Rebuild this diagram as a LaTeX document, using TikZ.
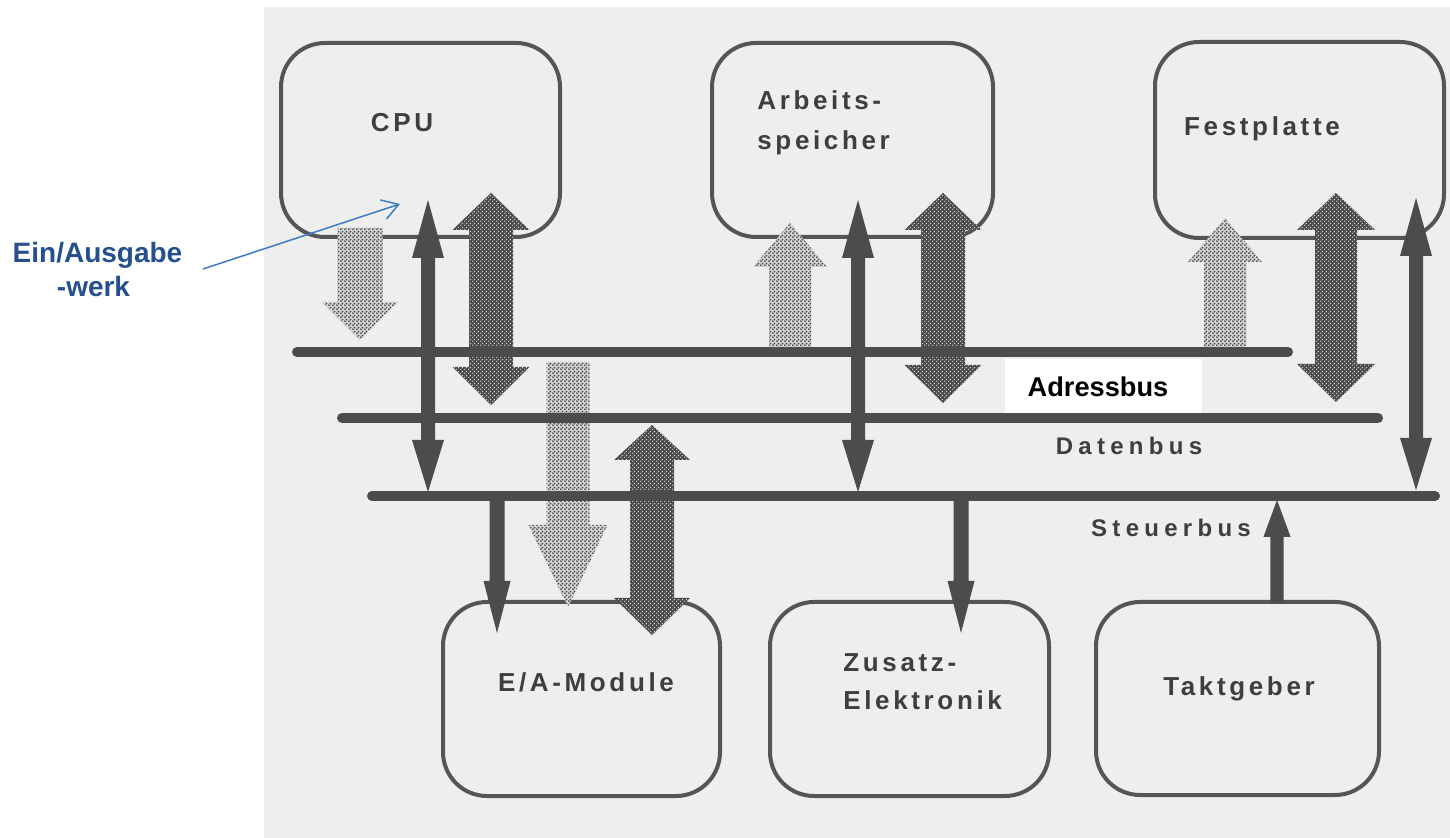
\documentclass[tikz,border=0pt]{standalone}
\usepackage{fontspec}
\setmainfont{Liberation Sans}
\newfontfamily\lblfont[LetterSpace=14]{Liberation Sans Bold}
\newfontfamily\busfont[LetterSpace=22]{Liberation Sans Bold}
\usetikzlibrary{arrows.meta,patterns.meta,calc}

\definecolor{scanbg}{HTML}{EEEEEE}
\definecolor{ink}{HTML}{4C4C4C}
\definecolor{boxc}{HTML}{555555}
\definecolor{txt}{HTML}{3E3E3E}
\definecolor{darkbase}{HTML}{4A4A4A}
\definecolor{darkdot}{HTML}{DADADA}
\definecolor{lightbase}{HTML}{D6D6D6}
\definecolor{lightdot}{HTML}{4E4E4E}
\definecolor{navy}{HTML}{25508D}
\definecolor{bluel}{HTML}{3F7BC4}

\tikzdeclarepattern{
  name=dotsS,
  type=uncolored,
  bounding box={(0pt,0pt) and (2pt,2pt)},
  tile size={(2pt,2pt)},
  code={
    \pgfpathcircle{\pgfpoint{0.5pt}{0.5pt}}{0.42pt}
    \pgfpathcircle{\pgfpoint{1.5pt}{1.5pt}}{0.42pt}
    \pgfusepath{fill}
  }
}
\tikzdeclarepattern{
  name=dotsL,
  type=uncolored,
  bounding box={(0pt,0pt) and (2pt,2pt)},
  tile size={(2pt,2pt)},
  code={
    \pgfpathcircle{\pgfpoint{0.5pt}{0.5pt}}{0.62pt}
    \pgfpathcircle{\pgfpoint{1.5pt}{1.5pt}}{0.62pt}
    \pgfusepath{fill}
  }
}

% #1 style, #2 top tip, #3 bottom tip, #4 shaft half, #5 head half, #6 top head length, #7 bottom head length
\newcommand\DblArrow[7]{%
  \path[#1] let \p1=(#2), \p2=(#3) in
    (\x1,\y1) -- (\x1+#5,\y1-#6) -- (\x1+#4,\y1-#6) -- (\x1+#4,\y2+#7) -- (\x1+#5,\y2+#7)
    -- (\x1,\y2) -- (\x1-#5,\y2+#7) -- (\x1-#4,\y2+#7) -- (\x1-#4,\y1-#6) -- (\x1-#5,\y1-#6) -- cycle;}
% #1 style, #2 tip (top), #3 base (bottom), #4 shaft half, #5 head half, #6 head length
\newcommand\UpArrow[6]{%
  \path[#1] let \p1=(#2), \p2=(#3) in
    (\x1,\y1) -- (\x1+#5,\y1-#6) -- (\x1+#4,\y1-#6) -- (\x1+#4,\y2) -- (\x1-#4,\y2)
    -- (\x1-#4,\y1-#6) -- (\x1-#5,\y1-#6) -- cycle;}
% #1 style, #2 base (top), #3 tip (bottom), #4 shaft half, #5 head half, #6 head length
\newcommand\DownArrow[6]{%
  \path[#1] let \p1=(#2), \p2=(#3) in
    (\x1-#4,\y1) -- (\x1+#4,\y1) -- (\x1+#4,\y2+#6) -- (\x1+#5,\y2+#6) -- (\x1,\y2)
    -- (\x1-#5,\y2+#6) -- (\x1-#4,\y2+#6) -- cycle;}

\begin{document}
\begin{tikzpicture}[x=0.5pt,y=-0.5pt,
  box/.style={draw=boxc, line width=2pt, rounded corners=22pt, inner sep=0pt},
  lbl/.style={font=\lblfont\fontsize{13}{16}\selectfont, text=txt, inner sep=0pt},
  buslbl/.style={font=\busfont\fontsize{12}{15}\selectfont, text=txt, inner sep=0pt},
  bus/.style={draw=ink, line width=5pt, line cap=round},
  solidar/.style={fill=ink},
  darkar/.style={fill=darkbase, postaction={pattern=dotsS, pattern color=darkdot}},
  lightar/.style={fill=lightbase, postaction={pattern=dotsL, pattern color=lightdot}},
  bluetxt/.style={font=\bfseries\fontsize{14}{17}\selectfont, text=navy, inner sep=0pt}
]
\useasboundingbox (0,0) rectangle (1450,838);
\fill[white] (0,0) rectangle (1450,838);
\fill[scanbg] (264,7) rectangle (1450,838);

% boxes
\node[box, minimum width=139.5pt, minimum height=97pt] (cpu) at (420.5,140) {};
\node[box, minimum width=140.5pt, minimum height=97pt] (ram) at (852.5,140) {};
\node[box, minimum width=144.5pt, minimum height=98pt] (hdd) at (1299.5,140) {};
\node[box, minimum width=138.5pt, minimum height=97pt] (ea) at (581.5,699) {};
\node[box, minimum width=139.5pt, minimum height=97pt] (zus) at (909.5,699) {};
\node[box, minimum width=141.5pt, minimum height=96.5pt] (takt) at (1237.5,698.5) {};

% bus end points
\coordinate (ab-w) at (297,352); \coordinate (ab-e) at (1288,352);
\coordinate (db-w) at (342,418); \coordinate (db-e) at (1378,418);
\coordinate (sb-w) at (372,496); \coordinate (sb-e) at (1435,496);

% connector end points
\coordinate (cpu-s) at (428,200); \coordinate (sb-1) at (428,492);
\coordinate (cpu-d) at (491,193); \coordinate (db-1) at (491,405);
\coordinate (cpu-a) at (360,228); \coordinate (ab-1) at (360,340);
\coordinate (ram-s) at (858,200); \coordinate (sb-2) at (858,492);
\coordinate (ram-d) at (943,193); \coordinate (db-2) at (943,403);
\coordinate (ram-a) at (790,223); \coordinate (ab-2) at (790,350);
\coordinate (hdd-s) at (1416,198); \coordinate (sb-3) at (1416,490);
\coordinate (hdd-d) at (1336,193); \coordinate (db-3) at (1336,402);
\coordinate (hdd-a) at (1225,218); \coordinate (ab-3) at (1225,350);
\coordinate (ab-4) at (568,362); \coordinate (ea-a) at (568,607);
\coordinate (db-4) at (652,425); \coordinate (ea-d) at (652,635);
\coordinate (sb-4) at (497,496); \coordinate (ea-s) at (497,633);
\coordinate (sb-5) at (961,496); \coordinate (zus-s) at (961,633);
\coordinate (sb-6) at (1277,500); \coordinate (takt-s) at (1277,603);

% address (light dotted) arrows
\DownArrow{lightar}{cpu-a}{ab-1}{11.25pt}{19pt}{19pt}
\UpArrow{lightar}{ram-a}{ab-2}{10.5pt}{18.5pt}{22pt}
\UpArrow{lightar}{hdd-a}{ab-3}{10.5pt}{18.5pt}{22pt}
\DownArrow{lightar}{ab-4}{ea-a}{10.75pt}{19.75pt}{41pt}

% data (dark dotted) arrows
\DblArrow{darkar}{cpu-d}{db-1}{11pt}{19.25pt}{18.5pt}{19pt}
\DblArrow{darkar}{ram-d}{db-2}{11pt}{19.25pt}{18.5pt}{19pt}
\DblArrow{darkar}{hdd-d}{db-3}{10.5pt}{19.5pt}{18.5pt}{19pt}
\DblArrow{darkar}{db-4}{ea-d}{11pt}{19pt}{17.5pt}{18.5pt}

% white label field of the address bus
\node[fill=white, minimum width=98.5pt, minimum height=27pt, inner sep=0pt] (ab-box) at (1103.5,386) {};

% control (solid) arrows
\DblArrow{solidar}{cpu-s}{sb-1}{3.5pt}{8pt}{29pt}{26pt}
\DblArrow{solidar}{ram-s}{sb-2}{3.5pt}{8pt}{29pt}{26pt}
\DblArrow{solidar}{hdd-s}{sb-3}{3.5pt}{8pt}{29pt}{26pt}
\DownArrow{solidar}{sb-4}{ea-s}{3.75pt}{6.75pt}{26pt}
\DownArrow{solidar}{sb-5}{zus-s}{3.75pt}{6.75pt}{26pt}
\UpArrow{solidar}{sb-6}{takt-s}{3.3pt}{6.8pt}{18.5pt}

% buses
\draw[bus] (ab-w) -- (ab-e);
\draw[bus] (db-w) -- (db-e);
\draw[bus] (sb-w) -- (sb-e);

% labels
\node[lbl, anchor=base] (cpu-t) at (402,132) {CPU};
\node[lbl, anchor=base west] (ram-t1) at (757,110) {Arbeits-};
\node[lbl, anchor=base west] (ram-t2) at (757,150) {speicher};
\node[lbl, anchor=base] (hdd-t) at (1262,136) {Festplatte};
\node[lbl, anchor=base] (ea-t) at (586,691) {E/A-Module};
\node[lbl, anchor=base west] (zus-t1) at (843,671) {Zusatz-};
\node[lbl, anchor=base west] (zus-t2) at (843,709) {Elektronik};
\node[lbl, anchor=base] (takt-t) at (1239,696) {Taktgeber};
\node[buslbl, anchor=base] (db-t) at (1129,455) {Datenbus};
\node[buslbl, anchor=base] (sb-t) at (1171,537) {Steuerbus};
\node[font=\bfseries\fontsize{13.6}{16}\selectfont, text=black, anchor=base, inner sep=0pt] (ab-t) at (1098,397) {Adressbus};

% annotation
\node[bluetxt, anchor=base] (eaw1) at (97.5,263) {Ein/Ausgabe};
\node[bluetxt, anchor=base] (eaw2) at (93.5,297) {-werk};
\coordinate (bl-s) at (203,269);
\coordinate (bl-e) at (400,204);
\draw[bluel, line width=0.75pt, -{Straight Barb[length=8pt,width=10pt]}] (bl-s) -- (bl-e);
\end{tikzpicture}
\end{document}
